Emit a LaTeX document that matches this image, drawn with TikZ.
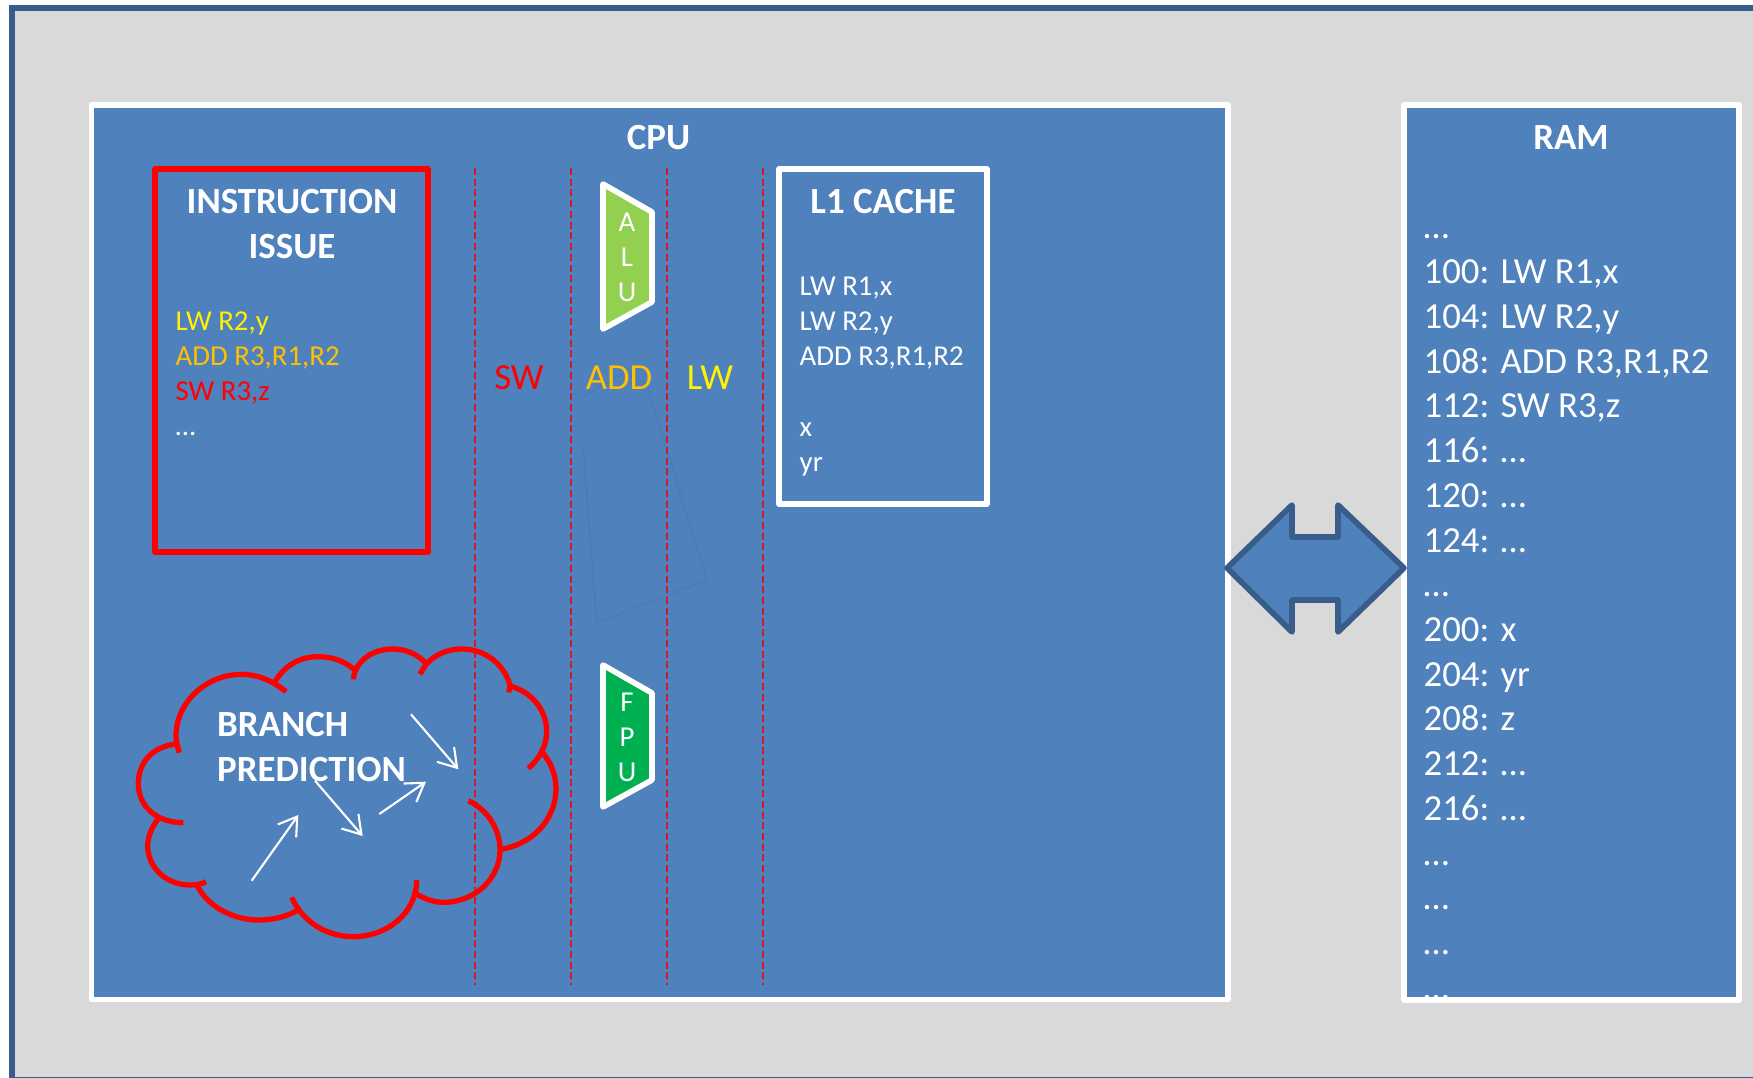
\documentclass[tikz,border=0pt]{standalone}
\usepackage{fontspec}
\setmainfont{Carlito}
\usetikzlibrary{arrows.meta}
\definecolor{panel}{HTML}{4F81BD}
\definecolor{edge}{HTML}{385D8A}
\definecolor{paper}{HTML}{D9D9D9}
\definecolor{dashred}{HTML}{D8182A}
\definecolor{aluc}{HTML}{92D050}
\definecolor{fpuc}{HTML}{00B050}
\definecolor{addc}{HTML}{FFC000}
\definecolor{ghost}{HTML}{4A7BB6}
\tikzset{
  big/.style={font=\fontsize{10.45}{12.72}\selectfont,text=white,inner sep=0pt},
  bigb/.style={font=\fontsize{10.5}{12.77}\selectfont\bfseries,text=white,inner sep=0pt},
  small/.style={font=\fontsize{8.2}{10}\selectfont,inner sep=0pt,anchor=base west},
  whitebox/.style={draw=white,line width=1.6pt,line join=round},
  stagebar/.style={draw=dashred,line width=0.55pt,dash pattern=on 2pt off 1.05pt},
  unit/.style={draw=white,line width=1.6pt,line join=round},
  letter/.style={font=\fontsize{8.2}{10}\selectfont,text=white,inner sep=0pt},
  lobe/.style={draw=red,line width=1.5pt},
  flow/.style={draw=white,line width=0.6pt,-{Straight Barb[length=5pt,width=6.4pt,line width=0.6pt]}},
}
\begin{document}
\begin{tikzpicture}[x=0.01cm,y=-0.01cm]
\useasboundingbox (0,0) rectangle (1753,1078);
\clip (0,0) rectangle (1753,1078);
% outer frame
\draw[fill=paper,draw=edge,line width=1.7pt] (12,8) rectangle (1775,1080);
% CPU
\draw[whitebox,fill=panel] (91.5,105) rectangle (1228,999.5);
% faint shape
\begin{scope}[shift={(440,150)},x=0.01cm/3,y=-0.01cm/3]
\draw[ghost,line width=0.35pt] (430,900) -- (470,1420) -- (800,1290) -- (620,700) -- (550,670) -- (425,742);
\end{scope}
% stage separators
\foreach \x/\n in {475/a,571/b,667/c,763/d}{
  \coordinate (top\n) at (\x,168);
  \coordinate (bot\n) at (\x,985);
  \draw[stagebar] (top\n) -- (bot\n);
}
% instruction issue
\draw[draw=red,line width=1.6pt,line join=round] (155,169) rectangle (428,552);
\node[bigb,align=center] (issue) at (292,224) {INSTRUCTION\\ISSUE};
\node[small,text=yellow] (i1) at (175,330) {LW R2,y};
\node[small,text=addc] (i2) at (175,365) {ADD R3,R1,R2};
\node[small,text=red] (i3) at (175,400) {SW R3,z};
\node[small,text=white] (i4) at (175,435) {…};
% L1
\draw[whitebox] (779,169) rectangle (987,504);
\node[bigb] (l1) at (883,202) {L1 CACHE};
\node[small,text=white] (c1) at (799,295) {LW R1,x};
\node[small,text=white] (c2) at (799,330) {LW R2,y};
\node[small,text=white] (c3) at (799,365) {ADD R3,R1,R2};
\node[small,text=white] (c4) at (799,436) {x};
\node[small,text=white] (c5) at (799,471) {yr};
% stage labels
\node[big,text=red] (sw) at (519,378) {SW};
\node[big,text=addc] (add) at (619,378) {ADD};
\node[big,text=yellow] (lw) at (710,378) {LW};
% ALU / FPU
\draw[unit,fill=aluc] (603,184) -- (652,212) -- (652,302) -- (603,329) -- cycle;
\node[letter] (a1) at (627,222.5) {A};
\node[letter] (a2) at (627,257) {L};
\node[letter] (a3) at (627,292) {U};
\draw[unit,fill=fpuc] (603,665) -- (652,693) -- (652,780) -- (603,807) -- cycle;
\node[letter] (f1) at (627,702) {F};
\node[letter] (f2) at (627,737) {P};
\node[letter] (f3) at (627,772.5) {U};
% cloud
\begin{scope}[shift={(120,620)},x=0.01cm/3,y=-0.01cm/3]
\draw[lobe] (168,372) .. controls (95,380) and (55,430) .. (55,490) .. controls (55,560) and (110,608) .. (190,608);
\draw[lobe] (118,592) .. controls (95,620) and (83,650) .. (83,680) .. controls (85,745) and (140,795) .. (210,795) .. controls (228,795) and (245,792) .. (258,785);
\draw[lobe] (228,790) .. controls (260,860) and (340,900) .. (415,900) .. controls (460,900) and (500,890) .. (535,870);
\draw[lobe] (515,832) .. controls (550,910) and (625,950) .. (700,950) .. controls (800,950) and (890,880) .. (890,780);
\draw[lobe] (885,820) .. controls (915,838) and (945,847) .. (970,847) .. controls (1065,847) and (1140,775) .. (1140,690) .. controls (1140,630) and (1105,570) .. (1045,542);
\draw[lobe] (1140,688) .. controls (1235,675) and (1308,600) .. (1308,505) .. controls (1308,465) and (1292,425) .. (1265,395);
\draw[lobe] (1225,445) .. controls (1260,415) and (1280,375) .. (1280,335) .. controls (1280,270) and (1235,215) .. (1170,198) -- (1166,217);
\draw[lobe] (1170,195) .. controls (1150,130) and (1095,87) .. (1025,87) .. controls (970,87) and (922,115) .. (900,163);
\draw[lobe] (918,130) .. controls (890,100) and (855,87) .. (818,87) .. controls (755,87) and (705,125) .. (700,178);
\draw[lobe] (705,150) .. controls (675,125) and (640,110) .. (595,110) .. controls (535,110) and (490,140) .. (462,190);
\draw[lobe] (498,215) .. controls (455,180) and (410,163) .. (365,163) .. controls (260,163) and (170,245) .. (168,345) .. controls (168,360) and (172,380) .. (178,398);
\coordinate (f1s) at (395,782); \coordinate (f1e) at (535,585);
\coordinate (f2s) at (585,482); \coordinate (f2e) at (728,648);
\coordinate (f3s) at (778,582); \coordinate (f3e) at (918,485);
\coordinate (f4s) at (873,283); \coordinate (f4e) at (1015,448);
\end{scope}
\draw[flow] (f1s) -- (f1e);
\draw[flow] (f2s) -- (f2e);
\draw[flow] (f3s) -- (f3e);
\draw[flow] (f4s) -- (f4e);
\node[bigb,align=left,anchor=west] (branch) at (216.5,747) {BRANCH\\PREDICTION};
\node[bigb] (cpul) at (658.5,138) {CPU};
% RAM
\fill[panel] (1404,105) rectangle (1739,999.5);
\node[bigb] (raml) at (1571,138) {RAM};
\node[big,align=left,anchor=north west] (mem) at (1423,234) {…\\100: LW R1,x\\104: LW R2,y\\108: ADD R3,R1,R2\\112: SW R3,z\\116: …\\120: …\\124: …\\…\\200: x\\204: yr\\208: z\\212: …\\216: …\\…\\…\\…\\…};
\draw[whitebox] (1404,105) rectangle (1739,1000);
% bus arrow
\draw[draw=edge,fill=panel,line width=1.6pt,line join=round] (1227,568) -- (1292,505) -- (1292,537) -- (1338,537) -- (1338,505) -- (1404,568) -- (1338,632) -- (1338,600) -- (1292,600) -- (1292,632) -- cycle;
\end{tikzpicture}
\end{document}
